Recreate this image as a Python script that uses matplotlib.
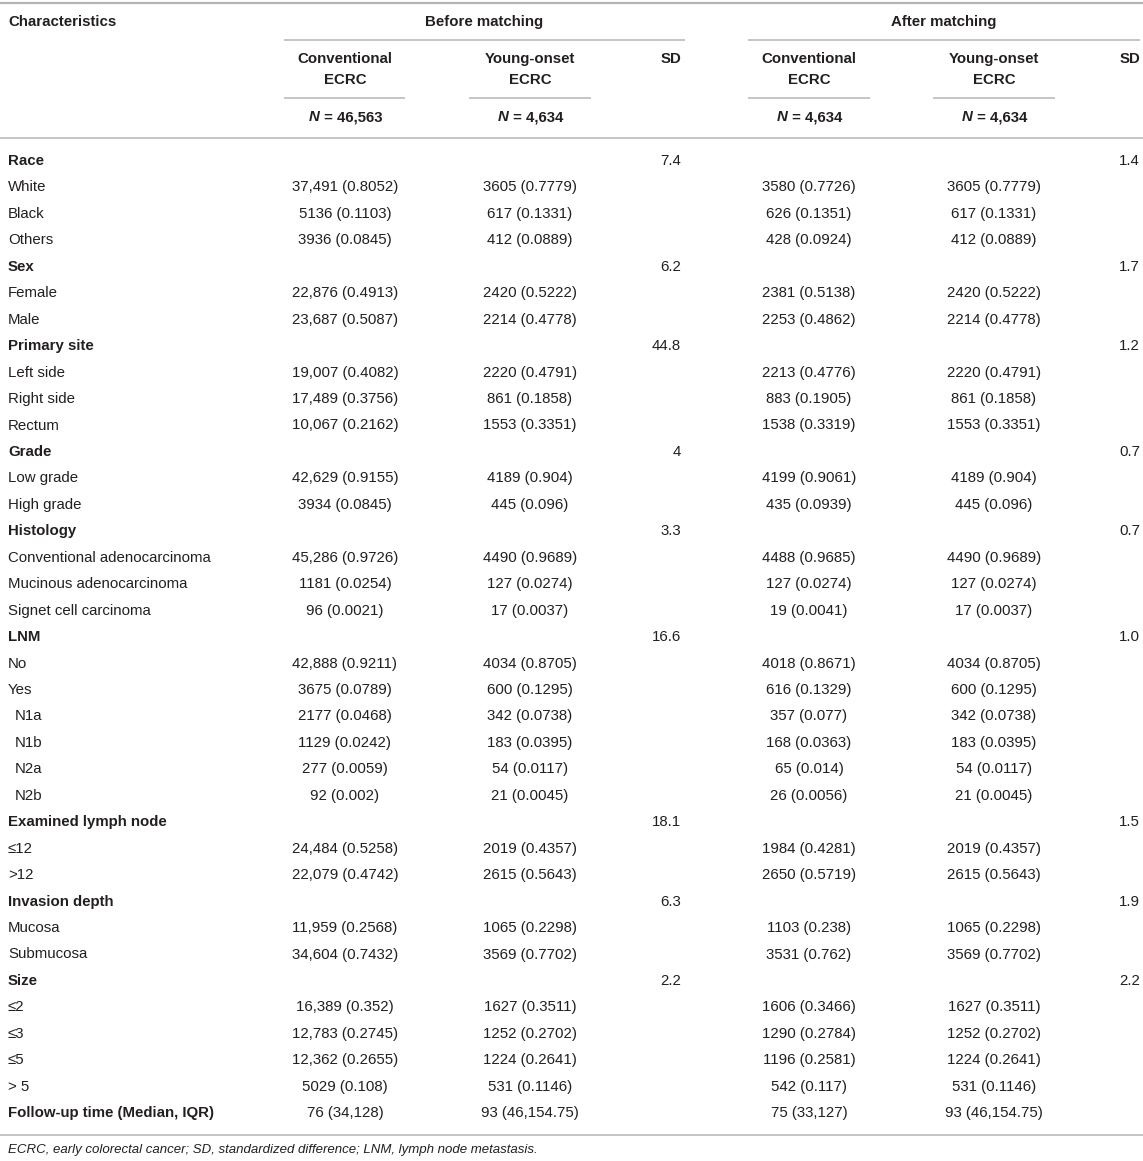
import matplotlib
matplotlib.use("Agg")
import matplotlib.pyplot as plt

plt.rcParams["font.family"] = ["Liberation Sans", "DejaVu Sans"]

W, H = 1143, 1161
FS = 10.8
TXT = "#231f20"
RULE = "#b5b5b5"

labels = ["Race", "White", "Black", "Others",
          "Sex", "Female", "Male",
          "Primary site", "Left side", "Right side", "Rectum",
          "Grade", "Low grade", "High grade",
          "Histology", "Conventional adenocarcinoma", "Mucinous adenocarcinoma", "Signet cell carcinoma",
          "LNM", "No", "Yes", "N1a", "N1b", "N2a", "N2b",
          "Examined lymph node", "≤12", ">12",
          "Invasion depth", "Mucosa", "Submucosa",
          "Size", "≤2", "≤3", "≤5", "> 5",
          "Follow-up time (Median, IQR)"]

# h = bold group row, s = plain row, i = indented sub row
kinds = ["h", "s", "s", "s",
         "h", "s", "s",
         "h", "s", "s", "s",
         "h", "s", "s",
         "h", "s", "s", "s",
         "h", "s", "s", "i", "i", "i", "i",
         "h", "s", "s",
         "h", "s", "s",
         "h", "s", "s", "s", "s",
         "h"]

before_conv = ["", "37,491 (0.8052)", "5136 (0.1103)", "3936 (0.0845)",
               "", "22,876 (0.4913)", "23,687 (0.5087)",
               "", "19,007 (0.4082)", "17,489 (0.3756)", "10,067 (0.2162)",
               "", "42,629 (0.9155)", "3934 (0.0845)",
               "", "45,286 (0.9726)", "1181 (0.0254)", "96 (0.0021)",
               "", "42,888 (0.9211)", "3675 (0.0789)", "2177 (0.0468)", "1129 (0.0242)", "277 (0.0059)", "92 (0.002)",
               "", "24,484 (0.5258)", "22,079 (0.4742)",
               "", "11,959 (0.2568)", "34,604 (0.7432)",
               "", "16,389 (0.352)", "12,783 (0.2745)", "12,362 (0.2655)", "5029 (0.108)",
               "76 (34,128)"]

before_young = ["", "3605 (0.7779)", "617 (0.1331)", "412 (0.0889)",
                "", "2420 (0.5222)", "2214 (0.4778)",
                "", "2220 (0.4791)", "861 (0.1858)", "1553 (0.3351)",
                "", "4189 (0.904)", "445 (0.096)",
                "", "4490 (0.9689)", "127 (0.0274)", "17 (0.0037)",
                "", "4034 (0.8705)", "600 (0.1295)", "342 (0.0738)", "183 (0.0395)", "54 (0.0117)", "21 (0.0045)",
                "", "2019 (0.4357)", "2615 (0.5643)",
                "", "1065 (0.2298)", "3569 (0.7702)",
                "", "1627 (0.3511)", "1252 (0.2702)", "1224 (0.2641)", "531 (0.1146)",
                "93 (46,154.75)"]

after_conv = ["", "3580 (0.7726)", "626 (0.1351)", "428 (0.0924)",
              "", "2381 (0.5138)", "2253 (0.4862)",
              "", "2213 (0.4776)", "883 (0.1905)", "1538 (0.3319)",
              "", "4199 (0.9061)", "435 (0.0939)",
              "", "4488 (0.9685)", "127 (0.0274)", "19 (0.0041)",
              "", "4018 (0.8671)", "616 (0.1329)", "357 (0.077)", "168 (0.0363)", "65 (0.014)", "26 (0.0056)",
              "", "1984 (0.4281)", "2650 (0.5719)",
              "", "1103 (0.238)", "3531 (0.762)",
              "", "1606 (0.3466)", "1290 (0.2784)", "1196 (0.2581)", "542 (0.117)",
              "75 (33,127)"]

after_young = list(before_young)

sd_before = {"Race": "7.4", "Sex": "6.2", "Primary site": "44.8", "Grade": "4",
             "Histology": "3.3", "LNM": "16.6", "Examined lymph node": "18.1",
             "Invasion depth": "6.3", "Size": "2.2"}
sd_after = {"Race": "1.4", "Sex": "1.7", "Primary site": "1.2", "Grade": "0.7",
            "Histology": "0.7", "LNM": "1.0", "Examined lymph node": "1.5",
            "Invasion depth": "1.9", "Size": "2.2"}

group_titles = ["Before matching", "After matching"]
col_titles = ["Conventional\nECRC", "Young-onset\nECRC"]
n_before = ["46,563", "4,634"]
n_after = ["4,634", "4,634"]
footnote = "ECRC, early colorectal cancer; SD, standardized difference; LNM, lymph node metastasis."

fig = plt.figure(figsize=(W / 100, H / 100), dpi=100)
ax = fig.add_axes([0, 0, 1, 1])
ax.set_xlim(0, W)
ax.set_ylim(H, 0)
ax.axis("off")


def rule(x0, x1, y, lw=1.1):
    ax.plot([x0, x1], [y, y], color=RULE, lw=lw, solid_capstyle="butt")


# column geometry
col_c = [345, 530, 809, 994]
sub_span = [(284, 405), (469, 591), (748, 870), (933, 1055)]
grp_span = [(284, 685), (748, 1140)]
sd_x = [681, 1140]

rule(0, W, 3, lw=1.6)
rule(0, W, 138)
rule(0, W, 1135)
for x0, x1 in grp_span:
    rule(x0, x1, 40)
for x0, x1 in sub_span:
    rule(x0, x1, 98)

ax.text(8, 22, "Characteristics", fontsize=FS, fontweight="bold", color=TXT, va="center")
for (x0, x1), t in zip(grp_span, group_titles):
    ax.text((x0 + x1) / 2, 22, t, fontsize=FS, fontweight="bold", color=TXT, ha="center", va="center")

for k, c in enumerate(col_c):
    ax.text(c, 69.5, col_titles[k % 2], fontsize=FS, fontweight="bold", color=TXT,
            ha="center", va="center", linespacing=1.6)
for x in sd_x:
    ax.text(x, 59, "SD", fontsize=FS, fontweight="bold", color=TXT, ha="right", va="center")

# N = ... row, italic N then bold rest, centred together
renderer = fig.canvas.get_renderer()
for c, n in zip(col_c, n_before + n_after):
    t1 = ax.text(0, 117, "N", fontsize=FS, fontweight="bold", fontstyle="italic", color=TXT, va="center")
    t2 = ax.text(0, 117, " = " + n, fontsize=FS, fontweight="bold", color=TXT, va="center")
    w1 = t1.get_window_extent(renderer).width
    w2 = t2.get_window_extent(renderer).width
    left = c - (w1 + w2) / 2
    t1.set_x(left)
    t2.set_x(left + w1 + 0.5)

y0, step = 161, 26.45
for i, lab in enumerate(labels):
    y = y0 + i * step
    kind = kinds[i]
    x = 15 if kind == "i" else 8
    ax.text(x, y, lab, fontsize=FS, color=TXT, va="center",
            fontweight="bold" if kind == "h" else "normal")
    for c, vals in zip(col_c, [before_conv, before_young, after_conv, after_young]):
        if vals[i]:
            ax.text(c, y, vals[i], fontsize=FS, color=TXT, ha="center", va="center")
    if lab in sd_before:
        ax.text(sd_x[0], y, sd_before[lab], fontsize=FS, color=TXT, ha="right", va="center")
        ax.text(sd_x[1], y, sd_after[lab], fontsize=FS, color=TXT, ha="right", va="center")

ax.text(8, 1150, footnote, fontsize=9.5, fontstyle="italic", color=TXT, va="center")

fig.savefig("out.png", dpi=100)
